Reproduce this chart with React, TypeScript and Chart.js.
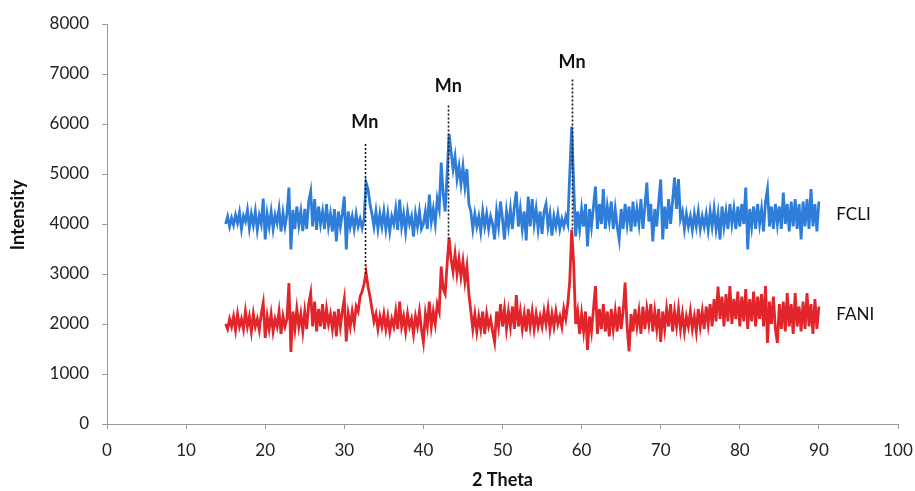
import React, { useEffect, useRef } from 'react';
import { Chart, registerables } from 'chart.js';

Chart.register(...registerables);

// 2-theta grid of the scan (degrees)
const THETA_START = 15;
const THETA_STEP = 0.25;

// FCLI intensities, one value per 0.25 deg from 15 to 90
const FCLI = [
  4000, 4150, 3950, 4120, 3980, 4180, 4020, 4230, 3900, 4160, 4050, 4280, 3920, 4200, 3980, 4250, 3880, 4170, 4000, 4510,
  3690, 4200, 3950, 4250, 3900, 4180, 4020, 4300, 3850, 4220, 3950, 4200, 4730, 3490, 4280, 3900, 4350, 3980, 4250, 3860,
  4300, 3900, 4450, 4650, 3950, 4500, 3880, 4350, 4000, 4250, 3900, 4400, 3950, 4200, 3850, 4300, 3650, 4250, 3950, 4200,
  4550, 3490, 4250, 3950, 4150, 3900, 4200, 3950, 4100, 3920, 4100, 4830, 4700, 4400, 4200, 3950, 4250, 3900, 4200, 3950,
  4250, 3900, 4200, 3850, 4150, 4000, 4300, 3880, 4490, 3950, 4200, 3850, 4250, 4000, 4150, 3750, 4200, 3950, 4250, 3900,
  4000, 4250, 3900, 4590, 4050, 4300, 4000, 4500, 4300, 5230, 4600, 4250, 5000, 5800, 5450, 5100, 5350, 4900, 5150, 4800,
  5150, 4750, 5100, 4400, 4250, 3900, 4200, 3950, 4150, 3850, 4250, 3950, 4200, 3900, 4150, 4000, 3690, 4250, 3950, 4450,
  4100, 3690, 4250, 3950, 4300, 3900, 4350, 4650, 3950, 4300, 3900, 4250, 3670, 4550, 3950, 4500, 4000, 4300, 3900, 4250,
  3800, 4250, 4400, 3950, 4200, 3770, 4150, 3950, 4200, 3900, 4100, 3950, 4150, 4000, 5000, 5950, 4800, 3750, 4250, 3900,
  4300, 3950, 4400, 3550, 4300, 3950, 4350, 4750, 3900, 4400, 4000, 4700, 3900, 4350, 4050, 4450, 3900, 4300, 3950, 3690,
  4300, 3900, 4400, 4000, 4350, 3850, 4450, 3950, 4300, 4000, 4500, 3900, 4350, 4830, 4050, 4400, 3650, 4300, 3950, 4450,
  4890, 3690, 4350, 3900, 4500, 4000, 4450, 4930, 4300, 4900, 4100, 4250, 3900, 4200, 3950, 4150, 3880, 4200, 3950, 4250,
  3900, 4150, 3950, 4200, 3880, 4250, 3950, 4300, 3900, 4200, 3690, 4350, 3950, 4250, 3900, 4400, 4000, 4300, 3900, 4350,
  3950, 4400, 4000, 4730, 3490, 4300, 3950, 4350, 3900, 4400, 4000, 4300, 3850, 4450, 4700, 3950, 4350, 3900, 4400, 4000,
  4350, 3900, 4630, 4000, 4400, 3850, 4450, 3950, 4500, 3900, 4400, 3690, 4450, 3950, 4500, 3900, 4700, 3950, 4400, 3850,
  4450,
];

// FANI intensities, one value per 0.25 deg from 15 to 90
const FANI = [
  2000, 1900, 2100, 1950, 2150, 1880, 2200, 1950, 2100, 1900, 2250, 1950, 2150, 1850, 2200, 1950, 2100, 1880, 2200, 2420,
  1720, 2150, 1900, 2200, 1850, 2100, 1950, 2250, 1800, 2150, 1950, 2100, 2820, 1440, 2250, 1900, 2300, 1950, 2200, 1850,
  2250, 1900, 2400, 2620, 1950, 2450, 1850, 2300, 1950, 2400, 1900, 2300, 2000, 2200, 1900, 2250, 1750, 2300, 1950, 2250,
  2500, 1650, 2200, 1950, 2250, 2000, 2350, 2250, 2550, 2650, 2800, 3030, 2750, 2550, 2300, 2050, 2200, 1900, 2150, 1950,
  2200, 1900, 2150, 1850, 2100, 1950, 2250, 1900, 2450, 1950, 2150, 1850, 2200, 1950, 2100, 1800, 2150, 1950, 2250, 1900,
  1640, 2200, 1950, 2450, 1950, 2250, 2000, 2400, 2250, 3150, 2700, 2600, 3200, 3730, 3300, 3050, 3400, 3000, 3300, 2950,
  3250, 2850, 3150, 2600, 2250, 1900, 2200, 1850, 2150, 1900, 2250, 1800, 2200, 1950, 2100, 1850, 1640, 2250, 1950, 2400,
  1950, 2300, 1900, 2250, 1950, 2350, 1900, 2580, 1950, 2250, 1900, 2200, 1850, 2300, 1950, 2250, 1900, 2200, 1950, 2150,
  1950, 2250, 2000, 2300, 1900, 2200, 1950, 2250, 2000, 2150, 1950, 2300, 2100, 2400, 2850, 3890, 3200, 2000, 2250, 1800,
  2200, 1850, 2250, 1480, 2150, 1850, 2300, 2760, 1800, 2300, 1900, 2400, 1850, 2250, 1750, 2300, 1900, 2250, 1850, 2350,
  1900, 2250, 2830, 1950, 1450, 2200, 1850, 2300, 1950, 2250, 1800, 2350, 1900, 2300, 2000, 2400, 1850, 2250, 1900, 2300,
  1640, 2250, 1900, 2300, 1950, 2400, 1850, 2250, 1950, 2300, 1900, 2200, 1850, 2150, 1950, 2250, 1900, 2150, 1850, 2300,
  1950, 2250, 1900, 2350, 2000, 2400, 1950, 2500, 2050, 2750, 2100, 2550, 1950, 2600, 2050, 2760, 2000, 2500, 2100, 2650,
  1950, 2550, 2050, 2700, 1900, 2500, 2050, 2650, 1950, 2550, 2100, 2600, 1950, 2760, 1620, 2450, 2000, 2550, 1900, 1620,
  2400, 1900, 2450, 1850, 2620, 1950, 2400, 1800, 2620, 1950, 2350, 1850, 2450, 1900, 2620, 1950, 2400, 1800, 2500, 1900,
  2350,
];

const SERIES_NAMES = ['FCLI', 'FANI'];
const SERIES_LABEL_X = 92.2;
const SERIES_LABEL_Y = [4190, 2185];

// Mn reflections: position, dotted line top/bottom and label height
const MN_X = [32.6, 43.15, 58.8];
const MN_LINE_TOP = [5600, 6370, 6890];
const MN_LINE_BOTTOM = [3000, 3700, 3900];
const MN_LABEL_Y = [6030, 6750, 7230];

const X_MIN = 0;
const X_MAX = 100;
const X_STEP = 10;
const Y_MIN = 0;
const Y_MAX = 8000;
const Y_STEP = 1000;

const FONT = 'Lato, "Open Sans", "DejaVu Sans", sans-serif';

const annotatePlugin = {
  id: 'annotate',
  afterDatasetsDraw(chart: any) {
    const { ctx, scales, chartArea } = chart;
    const x = scales.x;
    const y = scales.y;
    ctx.save();
    // dotted marker lines
    ctx.strokeStyle = '#1a1a1a';
    ctx.lineWidth = 1.6;
    ctx.setLineDash([2, 2]);
    MN_X.forEach((v, i) => {
      const px = Math.round(x.getPixelForValue(v)) + 0.5;
      ctx.beginPath();
      ctx.moveTo(px, y.getPixelForValue(MN_LINE_TOP[i]));
      ctx.lineTo(px, y.getPixelForValue(MN_LINE_BOTTOM[i]));
      ctx.stroke();
    });
    ctx.setLineDash([]);
    // Mn labels
    ctx.fillStyle = '#111';
    ctx.font = `bold 18px ${FONT}`;
    ctx.textAlign = 'center';
    ctx.textBaseline = 'middle';
    MN_X.forEach((v, i) => {
      ctx.fillText('Mn', x.getPixelForValue(v), y.getPixelForValue(MN_LABEL_Y[i]));
    });
    // series labels
    ctx.font = `17px ${FONT}`;
    ctx.textAlign = 'left';
    SERIES_NAMES.forEach((name, i) => {
      ctx.fillText(name, x.getPixelForValue(SERIES_LABEL_X), y.getPixelForValue(SERIES_LABEL_Y[i]));
    });
    // y axis title
    ctx.font = `bold 18px ${FONT}`;
    ctx.textAlign = 'center';
    ctx.translate(18, (chartArea.top + chartArea.bottom) / 2 - 9);
    ctx.rotate(-Math.PI / 2);
    ctx.fillText('Intensity', 0, 0);
    ctx.restore();
  },
};

export default function App() {
  const ref = useRef<HTMLCanvasElement | null>(null);

  useEffect(() => {
    if (!ref.current) return;
    const toPoints = (arr: number[]) =>
      arr.map((v, i) => ({ x: THETA_START + i * THETA_STEP, y: v }));
    const chart = new Chart(ref.current, {
      type: 'line',
      data: {
        datasets: [
          {
            label: SERIES_NAMES[0],
            data: toPoints(FCLI),
            borderColor: '#2d7dd9',
            borderWidth: 2.8,
            pointRadius: 0,
            tension: 0,
          },
          {
            label: SERIES_NAMES[1],
            data: toPoints(FANI),
            borderColor: '#e1252a',
            borderWidth: 2.8,
            pointRadius: 0,
            tension: 0,
          },
        ],
      },
      options: {
        animation: false,
        responsive: false,
        devicePixelRatio: 1,
        layout: { padding: { top: 24, right: 17, bottom: 0, left: 0 } },
        plugins: {
          legend: { display: false },
          tooltip: { enabled: false },
        },
        scales: {
          x: {
            type: 'linear',
            min: X_MIN,
            max: X_MAX,
            ticks: {
              stepSize: X_STEP,
              color: '#222',
              font: { family: FONT, size: 17 },
              padding: 11,
              maxRotation: 0,
              callback: (v: any) => String(v),
            },
            grid: {
              drawOnChartArea: false,
              drawTicks: true,
              tickLength: 5,
              color: '#9a9a9a',
            },
            border: { display: true, color: '#9a9a9a', width: 1 },
            title: {
              display: true,
              text: '2 Theta',
              color: '#111',
              font: { family: FONT, size: 18, weight: 'bold' },
              padding: { top: 0, bottom: 0 },
            },
            afterFit: (s: any) => {
              s.height = 67;
              s.paddingLeft = 0;
              s.paddingRight = 0;
            },
          },
          y: {
            type: 'linear',
            min: Y_MIN,
            max: Y_MAX,
            ticks: {
              stepSize: Y_STEP,
              color: '#222',
              font: { family: FONT, size: 17 },
              padding: 13,
              callback: (v: any) => String(v),
            },
            grid: {
              drawOnChartArea: false,
              drawTicks: true,
              tickLength: 5,
              color: '#9a9a9a',
            },
            border: { display: true, color: '#9a9a9a', width: 1 },
            afterFit: (s: any) => {
              s.width = 107;
              s.paddingTop = 0;
              s.paddingBottom = 0;
            },
          },
        },
      },
      plugins: [annotatePlugin],
    } as any);
    return () => chart.destroy();
  }, []);

  return (
    <div style={{ position: 'absolute', left: 0, top: 0, width: 915, height: 491, background: '#fff' }}>
      <canvas ref={ref} width={915} height={491} />
    </div>
  );
}
